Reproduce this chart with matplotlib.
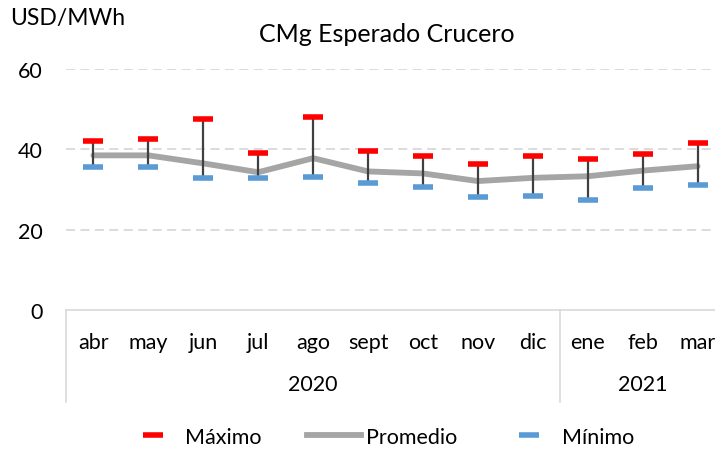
import matplotlib
matplotlib.use('Agg')
import matplotlib.pyplot as plt
from matplotlib.lines import Line2D
import matplotlib.transforms as mtransforms
import numpy as np

plt.rcParams['font.family'] = ['Lato', 'DejaVu Sans']

# data (USD/MWh)
months = ['abr', 'may', 'jun', 'jul', 'ago', 'sept', 'oct', 'nov', 'dic', 'ene', 'feb', 'mar']
years = ['2020', '2021']
year_counts = [9, 3]
maximo = [42.0, 42.6, 47.5, 39.1, 48.0, 39.6, 38.3, 36.3, 38.4, 37.6, 38.8, 41.5]
promedio = [38.5, 38.5, 36.5, 34.3, 37.8, 34.5, 34.0, 32.1, 32.9, 33.3, 34.7, 35.8]
minimo = [35.5, 35.7, 32.8, 32.8, 33.1, 31.6, 30.5, 28.1, 28.4, 27.5, 30.4, 31.1]

red = '#FF0000'
grey = '#A5A5A5'
blue = '#5B9BD5'
fs = 15.5

fig = plt.figure(figsize=(7.15, 4.52), dpi=100)
# plot area runs past the right edge like the original (cropped)
ax = fig.add_axes([66/715, 1 - 311/452, 659/715, 241/452])

x = np.arange(len(months))

ax.vlines(x, minimo, maximo, color='#404040', lw=1.6, zorder=3)
ax.plot(x, promedio, color=grey, lw=4.2, solid_capstyle='round', zorder=2)
ax.plot(x, maximo, ls='none', marker='_', ms=15, mew=4, color=red, zorder=4)
ax.plot(x, minimo, ls='none', marker='_', ms=15, mew=4, color=blue, zorder=4)

ax.set_xlim(-0.5, len(months) - 0.5)
ax.set_ylim(0, 60)
ax.set_yticks([0, 20, 40, 60])
for y in [20, 40, 60]:
    ax.axhline(y, color='#D9D9D9', lw=1.3, ls=(0, (5, 3)), zorder=0)
for s in ['top', 'right', 'left']:
    ax.spines[s].set_visible(False)
ax.spines['bottom'].set_color('#D9D9D9')
ax.spines['bottom'].set_linewidth(1.2)

ax.set_xticks(x)
ax.set_xticklabels(months, fontsize=fs)
ax.tick_params(axis='x', length=0, pad=16)
ax.tick_params(axis='y', length=0, pad=17, labelsize=fs)

# year grouping below the month labels
trans = mtransforms.blended_transform_factory(ax.transData, ax.transAxes)
start = -0.5
for yr, n in zip(years, year_counts):
    ax.add_line(Line2D([start, start], [0, -0.382], transform=trans, color='#D9D9D9',
                       lw=1.2, clip_on=False))
    ax.text(start + n / 2, -0.305, yr, transform=trans, ha='center', va='center', fontsize=fs)
    start += n

fig.text(10/715, 1 - 19/452, 'USD/MWh', fontsize=16.5, va='center', ha='left')
fig.text(387/715, 1 - 34/452, 'CMg Esperado Crucero', fontsize=18, va='center', ha='center')

handles = [
    Line2D([], [], ls='none', marker='_', ms=14, mew=4, color=red, label='Máximo'),
    Line2D([], [], color=grey, lw=4.2, label='Promedio'),
    Line2D([], [], ls='none', marker='_', ms=14, mew=4, color=blue, label='Mínimo'),
]
fig.legend(handles=handles, loc='center', bbox_to_anchor=(380/715, 1 - 438/452), ncol=3,
           frameon=False, fontsize=fs, handlelength=2.5, handletextpad=0.25, columnspacing=2.1)

fig.savefig('out.png', dpi=100)
